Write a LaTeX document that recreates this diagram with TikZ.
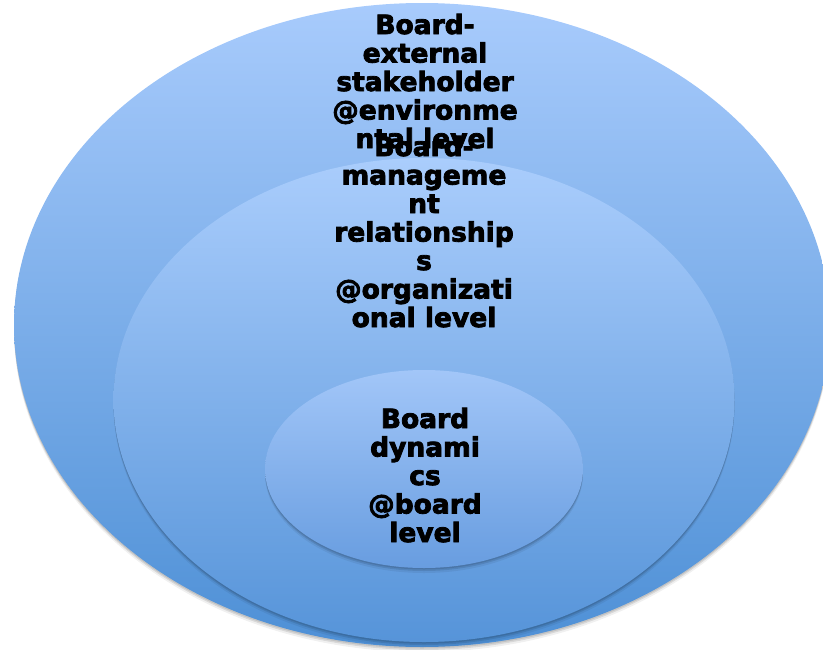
\documentclass[tikz,border=0pt]{standalone}
\usepackage{fontspec}
\setmainfont{DejaVu Sans}
\newfontfamily\labelfont{DejaVu Sans}[FakeBold=3]
\usetikzlibrary{shapes.geometric,shadows}
\definecolor{outerTop}{RGB}{168,203,252}
\definecolor{outerBot}{RGB}{78,144,214}
\definecolor{midTop}{RGB}{170,205,252}
\definecolor{midBot}{RGB}{86,148,217}
\definecolor{innTop}{RGB}{162,198,248}
\definecolor{innBot}{RGB}{104,157,224}
\begin{document}
\begin{tikzpicture}[x=1pt,y=-1pt]
\tikzset{
  ring/.style={ellipse, inner sep=0pt, outer sep=0pt, draw=none,
    general shadow={shadow yshift=-1.5pt, fill=black, opacity=0.10},
    general shadow={shadow yshift=-3pt, fill=black, opacity=0.10},
    general shadow={shadow yshift=-5pt, fill=black, opacity=0.06}},
  lbl/.style={align=center, inner sep=0pt, text=black,
    font=\labelfont\bfseries\fontsize{26.5}{28.5}\selectfont}
}
\useasboundingbox (0,0) rectangle (823,649);
\node[ring, minimum width=816pt, minimum height=644pt,
      top color=outerTop, bottom color=outerBot] (outer) at (422,325) {};
\node[ring, minimum width=621pt, minimum height=484pt,
      top color=midTop, bottom color=midBot] (middle) at (424,400) {};
\node[ring, minimum width=318pt, minimum height=198pt,
      top color=innTop, bottom color=innBot] (inner) at (424,469) {};
\node[lbl, anchor=base] (outerlbl) at (425,148)
  {Board-\\external\\stakeholder\\@environme\\ntal level};
\node[lbl, anchor=base] (midlbl) at (424,327)
  {Board-\\manageme\\nt\\relationship\\s\\@organizati\\onal level};
\node[lbl, anchor=base] (innlbl) at (425,542)
  {Board\\dynami\\cs\\@board\\level};
\end{tikzpicture}
\end{document}
